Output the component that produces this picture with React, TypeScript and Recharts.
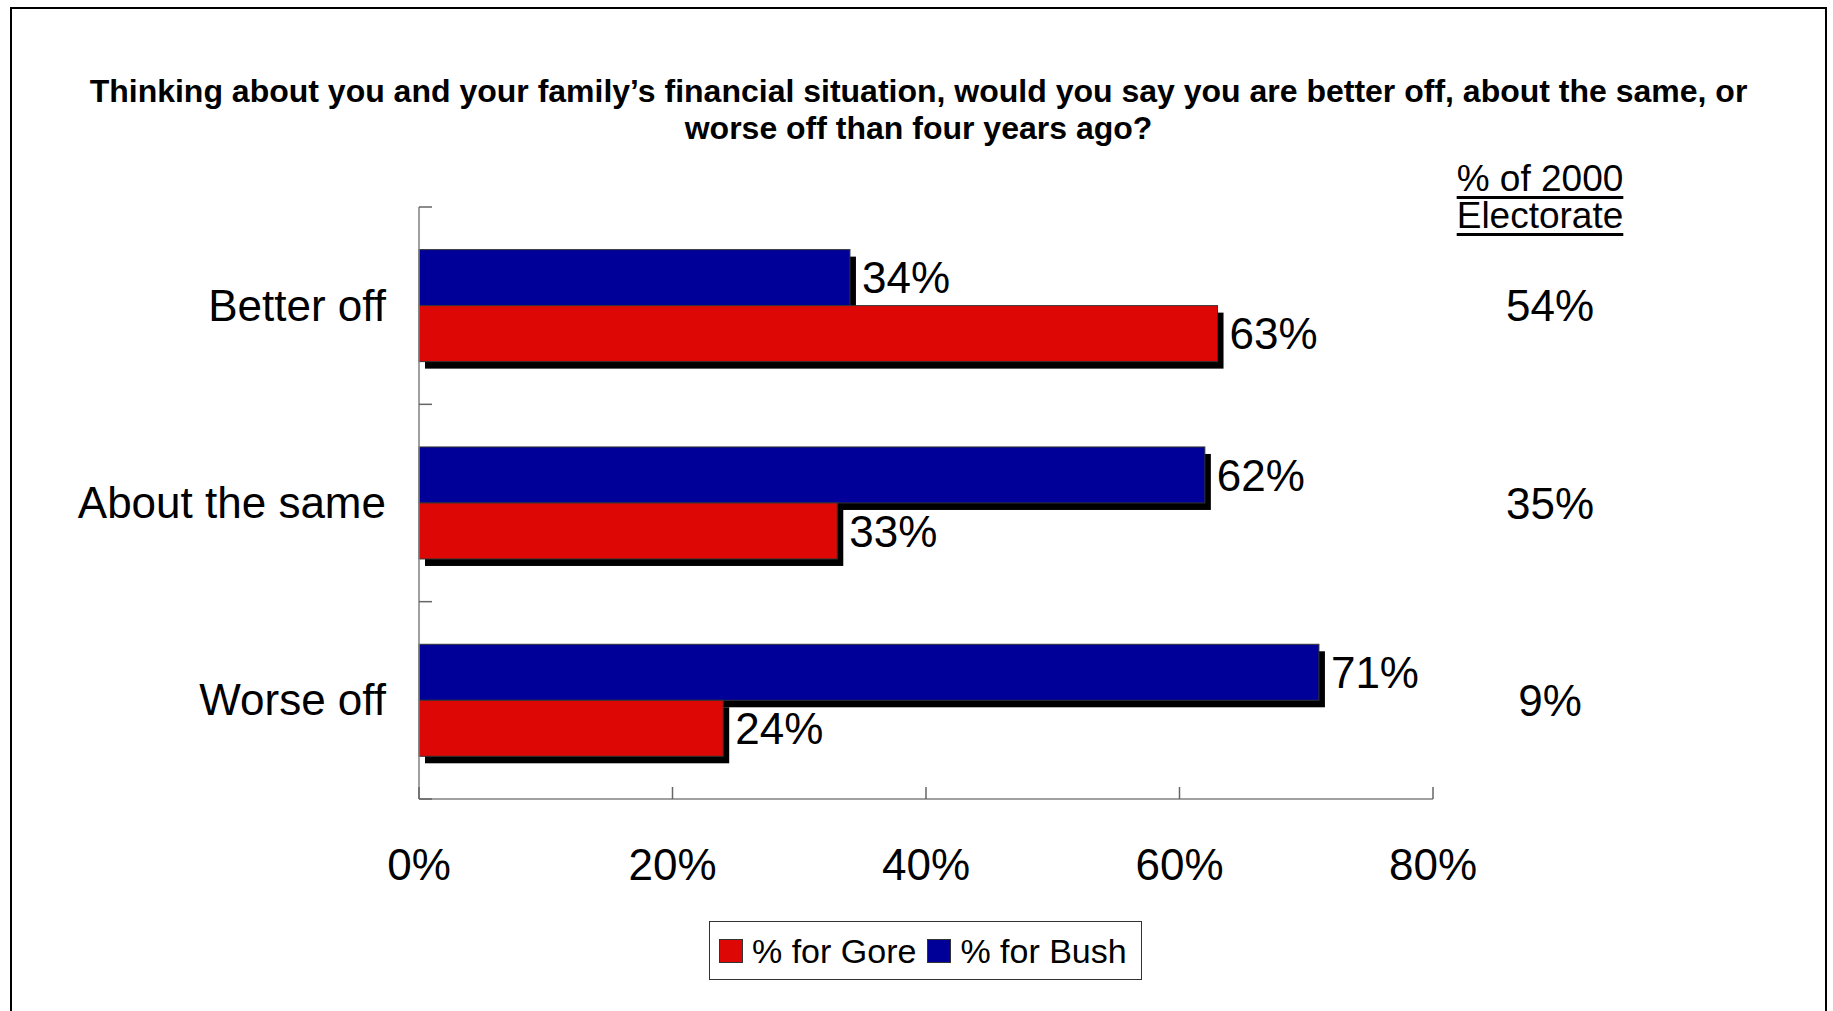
import React from "react";
import { Bar, BarChart, LabelList, XAxis, YAxis } from "recharts";

const categories = ["Better off", "About the same", "Worse off"];
const bushPct = [34, 62, 71];
const gorePct = [63, 33, 24];
const electoratePct = [54, 35, 9];
const xTicks = [0, 20, 40, 60, 80];

const titleLines = [
  "Thinking about you and your family\u2019s financial situation, would you say you are better off, about the same, or",
  "worse off than four years ago?",
];
const sideHeader = ["% of 2000", "Electorate"];

const series = [
  { key: "bush", name: "% for Bush", color: "#000099" },
  { key: "gore", name: "% for Gore", color: "#DD0806" },
];
const legendOrder = ["gore", "bush"];

const data = categories.map((label, i) => ({ label, bush: bushPct[i], gore: gorePct[i] }));

const FONT = "'Liberation Sans', Arial, sans-serif";
const pct = (v: any) => `${v}%`;

const CHART_W = 1833;
const CHART_H = 1011;
const MARGIN = { top: 207, right: 0, left: 60, bottom: 112 };
const X_AXIS_H = 100;
const BAND = (CHART_H - MARGIN.top - MARGIN.bottom - X_AXIS_H) / categories.length;

// bar with the offset black drop shadow
function ShadowBar(props: any) {
  const { x, y, width, height, fill } = props;
  if (!width || !height) return null;
  return (
    <g>
      <rect x={x + 6} y={y + 7} width={width} height={height} fill="#000" />
      <rect x={x} y={y} width={width} height={height} fill={fill} stroke="#333" strokeWidth={1} />
    </g>
  );
}

// x ticks point up into the plot, label well below the axis
function XTick(props: any) {
  const { x, y, payload } = props;
  return (
    <g>
      <line x1={x} x2={x} y1={y - 12} y2={y} stroke="#666" strokeWidth={1.5} />
      <text x={x} y={y + 81} textAnchor="middle" fontSize={44} fill="#000">
        {pct(payload.value)}
      </text>
    </g>
  );
}

// category label plus short inward ticks on the band boundaries (Excel style)
function CatTick(props: any) {
  const { x, y, payload, index, visibleTicksCount } = props;
  const half = BAND / 2;
  return (
    <g>
      <line x1={x} x2={x + 13} y1={y - half} y2={y - half} stroke="#666" strokeWidth={1.5} />
      {index === visibleTicksCount - 1 && (
        <line x1={x} x2={x + 13} y1={y + half} y2={y + half} stroke="#666" strokeWidth={1.5} />
      )}
      <text x={x - 33} y={y + 15} textAnchor="end" fontSize={44} fill="#000">
        {payload.value}
      </text>
    </g>
  );
}

function Legend() {
  return (
    <div
      style={{
        position: "absolute",
        left: 709,
        top: 921,
        width: 422,
        height: 57,
        border: "1px solid #333",
        display: "flex",
        alignItems: "center",
        paddingLeft: 9,
        boxSizing: "content-box",
        fontSize: 34,
        background: "#fff",
      }}
    >
      {legendOrder.map((k) => {
        const s = series.find((d) => d.key === k)!;
        return (
          <span key={k} style={{ display: "flex", alignItems: "center", marginRight: 11 }}>
            <span
              style={{
                width: 22,
                height: 22,
                background: s.color,
                border: "1px solid #333",
                marginRight: 9,
                display: "inline-block",
              }}
            />
            <span style={{ lineHeight: "34px" }}>{s.name}</span>
          </span>
        );
      })}
    </div>
  );
}

export default function App() {
  return (
    <div style={{ position: "absolute", left: 0, top: 0, width: CHART_W, height: CHART_H, fontFamily: FONT, background: "#fff" }}>
      <div
        style={{
          position: "absolute",
          left: 10,
          top: 7,
          width: 1813,
          height: 1002,
          borderTop: "2px solid #000",
          borderLeft: "2px solid #000",
          borderRight: "2px solid #000",
        }}
      />
      <div
        style={{
          position: "absolute",
          left: 10,
          top: 73,
          width: 1817,
          textAlign: "center",
          fontWeight: "bold",
          fontSize: 32,
          lineHeight: "37px",
        }}
      >
        {titleLines.map((t) => (
          <div key={t}>{t}</div>
        ))}
      </div>
      <div
        style={{
          position: "absolute",
          left: 1440,
          top: 160,
          width: 200,
          textAlign: "center",
          fontSize: 37,
          lineHeight: "37px",
        }}
      >
        {sideHeader.map((t) => (
          <div key={t} style={{ textDecoration: "underline", textUnderlineOffset: 5 }}>
            {t}
          </div>
        ))}
      </div>
      <div style={{ position: "absolute", left: 0, top: 0 }}>
        <BarChart
          width={CHART_W}
          height={CHART_H}
          data={data}
          layout="vertical"
          margin={MARGIN}
          barCategoryGap="21.6%"
          barGap={0}
          style={{ fontFamily: FONT }}
        >
          <XAxis
            type="number"
            domain={[0, 80]}
            ticks={xTicks}
            height={X_AXIS_H}
            tickSize={0}
            tickMargin={0}
            axisLine={{ stroke: "#808080", strokeWidth: 1.5 }}
            tickLine={false}
            tick={XTick}
          />
          <YAxis
            yAxisId="cat"
            type="category"
            dataKey="label"
            width={359}
            axisLine={{ stroke: "#808080", strokeWidth: 1.5 }}
            tickLine={false}
            tickSize={0}
            tickMargin={0}
            tick={CatTick}
          />
          <YAxis
            yAxisId="side"
            type="category"
            dataKey="label"
            orientation="right"
            width={400}
            axisLine={false}
            tickLine={false}
            tickSize={0}
            tickMargin={117}
            tickFormatter={(_v: any, i: number) => pct(electoratePct[i])}
            tick={{ fontSize: 44, fill: "#000", textAnchor: "middle" }}
          />
          {series.map((s) => (
            <Bar
              key={s.key}
              yAxisId="cat"
              dataKey={s.key}
              name={s.name}
              fill={s.color}
              shape={<ShadowBar />}
              isAnimationActive={false}
            >
              <LabelList dataKey={s.key} position="right" offset={12} formatter={pct} fontSize={44} fill="#000" />
            </Bar>
          ))}
        </BarChart>
      </div>
      <Legend />
    </div>
  );
}
